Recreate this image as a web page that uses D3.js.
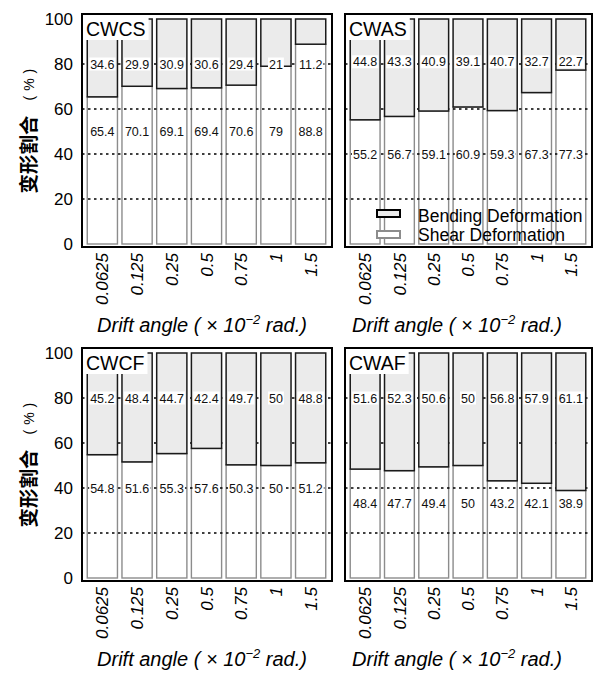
<!DOCTYPE html>
<html lang="zh">
<head>
<meta charset="UTF-8">
<title>变形割合</title>
<script src="https://cdn.jsdelivr.net/npm/d3@7"></script>
<style>
html, body { margin: 0; padding: 0; background: white; }
body { font-family: 'Liberation Sans', Arial, sans-serif; }
.tick-y text { font-size: 17px; fill: #000; }
.tick-x text { font-size: 17px; font-style: italic; fill: #000; }
.val { font-size: 12.5px; fill: #111; }
.ptitle { font-size: 19.5px; fill: #000; }
.xtitle { font-size: 20px; font-style: italic; fill: #000; }
.ytitle { font-family: 'Noto Sans CJK SC', sans-serif; font-size: 19.5px; font-weight: bold; fill: #000; }
.yunit { font-size: 14px; letter-spacing: 5px; fill: #000; }
.legend text { font-size: 17.5px; fill: #000; }
</style>
</head>
<body>
<div id="chart"></div>
<script>

// --------------------------------------
// Data
// --------------------------------------

const drifts = ["0.0625", "0.125", "0.25", "0.5", "0.75", "1", "1.5"];

const cwcsShear = [65.4, 70.1, 69.1, 69.4, 70.6, 79, 88.8];
const cwcsBend  = [34.6, 29.9, 30.9, 30.6, 29.4, 21, 11.2];
const cwasShear = [55.2, 56.7, 59.1, 60.9, 59.3, 67.3, 77.3];
const cwasBend  = [44.8, 43.3, 40.9, 39.1, 40.7, 32.7, 22.7];
const cwcfShear = [54.8, 51.6, 55.3, 57.6, 50.3, 50, 51.2];
const cwcfBend  = [45.2, 48.4, 44.7, 42.4, 49.7, 50, 48.8];
const cwafShear = [48.4, 47.7, 49.4, 50, 43.2, 42.1, 38.9];
const cwafBend  = [51.6, 52.3, 50.6, 50, 56.8, 57.9, 61.1];

const yTicks = [0, 20, 40, 60, 80, 100];
const gridValues = [20, 40, 60, 80];

const legendItems = ["Bending Deformation", "Shear Deformation"];

// --------------------------------------
// Layout
// --------------------------------------

const cols = [
  {x0: 82, x1: 332, titleX: 202},
  {x0: 345, x1: 592, titleX: 457}
];
const rows = [
  {top: 19, bottom: 244},
  {top: 353, bottom: 578}
];

const panels = [
  {name: "CWCS", shear: cwcsShear, bend: cwcsBend, col: 0, row: 0, bendAt: 80, shearAt: 50},
  {name: "CWAS", shear: cwasShear, bend: cwasBend, col: 1, row: 0, bendAt: 81, shearAt: 40, legend: true},
  {name: "CWCF", shear: cwcfShear, bend: cwcfBend, col: 0, row: 1, bendAt: 80, shearAt: 40},
  {name: "CWAF", shear: cwafShear, bend: cwafBend, col: 1, row: 1, bendAt: 80, shearAt: 33}
];

const bendFill = "#ebebeb";
const bendStroke = "#1a1a1a";
const shearStroke = "#8c8c8c";

let svg = d3.select("#chart")
  .append("svg")
  .attr("width", 598)
  .attr("height", 675);

panels.forEach(p => {
  const c = cols[p.col], r = rows[p.row];
  const g = svg.append("g");

  let x = d3.scaleBand()
    .domain(drifts)
    .range([c.x0 + 3, c.x1 - 4])
    .paddingInner(0.13)
    .paddingOuter(0.065);

  let y = d3.scaleLinear()
    .domain([0, 100])
    .range([r.bottom, r.top]);

  const rowsData = drifts.map((d, i) => ({drift: d, shear: p.shear[i], bend: p.bend[i]}));

  // shear bars (bottom part)
  g.selectAll(".shear")
    .data(rowsData)
    .join("rect")
    .attr("class", "shear")
    .attr("x", d => x(d.drift))
    .attr("width", x.bandwidth())
    .attr("y", d => y(d.shear))
    .attr("height", d => y(0) - y(d.shear))
    .attr("fill", "white")
    .attr("stroke", shearStroke)
    .attr("stroke-width", 1.4);

  // dotted gridlines
  g.selectAll(".grid")
    .data(gridValues)
    .join("line")
    .attr("x1", c.x0)
    .attr("x2", c.x1)
    .attr("y1", d => y(d))
    .attr("y2", d => y(d))
    .attr("stroke", "#000")
    .attr("stroke-width", 1.5)
    .attr("stroke-dasharray", "2.5,3.5");

  // bending bars (top part)
  g.selectAll(".bend")
    .data(rowsData)
    .join("rect")
    .attr("class", "bend")
    .attr("x", d => x(d.drift))
    .attr("width", x.bandwidth())
    .attr("y", y(100))
    .attr("height", d => y(d.shear) - y(100))
    .attr("fill", bendFill)
    .attr("stroke", bendStroke)
    .attr("stroke-width", 1.5);

  // value labels with white boxes
  const addLabel = (cx, cy, txt) => {
    const t = g.append("text")
      .attr("class", "val")
      .attr("x", cx)
      .attr("y", cy)
      .attr("dy", "0.36em")
      .attr("text-anchor", "middle")
      .text(txt);
    const w = t.node().getComputedTextLength();
    g.insert("rect", () => t.node())
      .attr("x", cx - w / 2 - 1)
      .attr("y", cy - 6.5)
      .attr("width", w + 2)
      .attr("height", 13)
      .attr("fill", "white");
  };
  rowsData.forEach(d => {
    const cx = x(d.drift) + x.bandwidth() / 2;
    addLabel(cx, y(p.bendAt), String(d.bend));
    addLabel(cx, y(p.shearAt), String(d.shear));
  });

  // panel title in white box
  const tt = g.append("text")
    .attr("class", "ptitle")
    .attr("x", c.x0 + 4)
    .attr("y", y(100) + 17)
    .text(p.name);
  const tw = tt.node().getComputedTextLength();
  g.insert("rect", () => tt.node())
    .attr("x", c.x0 + 2)
    .attr("y", y(100) - 4)
    .attr("width", tw + 5)
    .attr("height", 25)
    .attr("fill", "white");

  // frame
  g.append("rect")
    .attr("x", c.x0)
    .attr("y", y(100) - 5)
    .attr("width", c.x1 - c.x0)
    .attr("height", y(0) + 3 - (y(100) - 5))
    .attr("fill", "none")
    .attr("stroke", "#000")
    .attr("stroke-width", 2);

  // x axis labels
  const xAxis = g.append("g")
    .attr("class", "tick-x")
    .attr("transform", `translate(0,${y(0) + 9})`)
    .call(d3.axisBottom(x).tickSize(0).tickPadding(0));
  xAxis.select(".domain").remove();
  xAxis.selectAll("text")
    .attr("transform", "rotate(-90)")
    .attr("x", 0)
    .attr("y", 0)
    .attr("dy", "0.36em")
    .attr("text-anchor", "end");

  // x axis title
  const xt = g.append("text")
    .attr("class", "xtitle")
    .attr("x", c.titleX)
    .attr("y", y(0) + 88)
    .attr("text-anchor", "middle");
  xt.append("tspan").text("Drift angle ( \u00d7 10");
  xt.append("tspan").attr("font-size", "13px").attr("dy", "-8").text("\u22122");
  xt.append("tspan").attr("dy", "8").text(" rad.)");

  // y axis (left column only)
  if (p.col === 0) {
    const yAxis = g.append("g")
      .attr("class", "tick-y")
      .attr("transform", `translate(${c.x0 - 9},0)`)
      .call(d3.axisLeft(y).tickValues(yTicks).tickSize(0).tickPadding(0));
    yAxis.select(".domain").remove();

    const mid = (y(0) + y(100)) / 2;
    g.append("text")
      .attr("class", "ytitle")
      .attr("transform", `translate(36,${mid + 62}) rotate(-90)`)
      .attr("text-anchor", "start")
      .text("变形割合");
    g.append("text")
      .attr("class", "yunit")
      .attr("transform", `translate(34,${mid - 31}) rotate(-90)`)
      .attr("text-anchor", "start")
      .text("(%)");
  }

  // legend
  if (p.legend) {
    const lg = g.append("g").attr("class", "legend");
    legendItems.forEach((name, i) => {
      lg.append("rect")
        .attr("x", c.x0 + 32)
        .attr("y", y(0) - 34 + i * 21)
        .attr("width", 23)
        .attr("height", 7)
        .attr("fill", i === 0 ? bendFill : "white")
        .attr("stroke", i === 0 ? "#000" : shearStroke)
        .attr("stroke-width", 2);
      lg.append("text")
        .attr("x", c.x0 + 73)
        .attr("y", y(0) - 22 + i * 18.5)
        .text(name);
    });
  }
});

</script>
</body>
</html>
